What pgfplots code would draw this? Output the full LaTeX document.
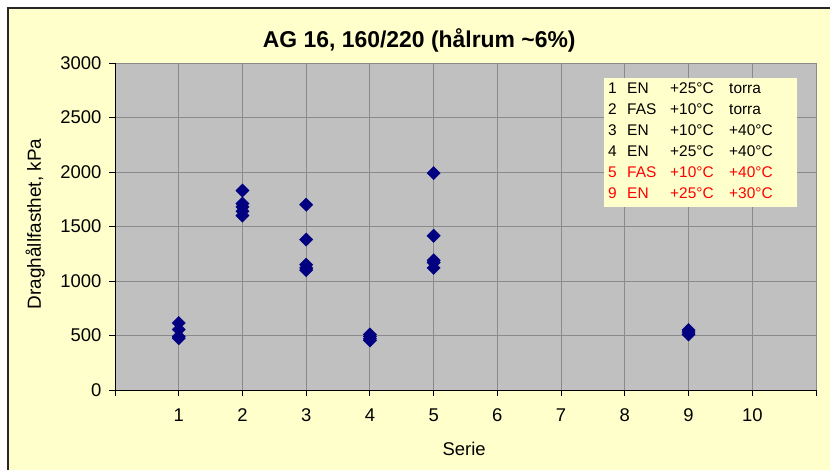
\documentclass[border=0pt]{standalone}
\usepackage{pgfplots}
\pgfplotsset{compat=1.18}
\usepackage{fontspec}
\setmainfont{Liberation Sans}
\definecolor{bgyel}{HTML}{FFFFCC}
\definecolor{plotgray}{HTML}{C0C0C0}
\definecolor{gridgray}{HTML}{8A8A8A}
\definecolor{navy}{HTML}{000080}
\begin{document}
\begin{tikzpicture}[x=1bp,y=1bp]
\useasboundingbox (0,0) rectangle (830,-470);
\fill[white] (0,0) rectangle (830,-470);
\fill[bgyel] (8,-8) rectangle (840,-480);
\draw[black!85, line width=1.6bp] (8,-480) -- (8,-8) -- (840,-8);
\begin{axis}[
  scale only axis, width=701bp, height=327bp,
  at={(115bp,-390bp)}, anchor=south west,
  xmin=0, xmax=11, ymin=0, ymax=3000,
  xtick={0,...,11}, xticklabels={,1,2,3,4,5,6,7,8,9,10,},
  ytick={0,500,...,3000},
  axis background/.style={fill=plotgray},
  grid=major, grid style={gridgray, line width=0.9bp},
  axis x line*=bottom, axis y line*=left,
  axis line style={black, line width=0.9bp, -},
  tick align=outside, major tick length=6bp,
  tick style={black, line width=0.9bp},
  ticklabel style={font=\fontsize{18.5}{21}\selectfont},
  xticklabel style={yshift=-9bp},
  yticklabel style={xshift=-4bp},
  /pgf/number format/assume math mode=true,
  /pgf/number format/1000 sep={},
  xlabel={Serie}, ylabel={Draghållfasthet, kPa},
  every axis x label/.style={at={(axis description cs:0.498,-0.18)}, anchor=center, font=\fontsize{18.5}{21}\selectfont},
  every axis y label/.style={at={(axis description cs:-0.114,0.508)}, rotate=90, anchor=center, font=\fontsize{19}{21}\selectfont},
  title={AG 16, 160/220 (hålrum \textasciitilde 6\%)},
  title style={at={(axis description cs:0.434,1.05)}, anchor=center, font=\bfseries\fontsize{23}{26}\selectfont},
  clip=false,
]
\addplot[only marks, mark=square*, mark size=4.7bp, mark options={rotate=45, fill=navy, draw=navy}] coordinates {
  (1,615) (1,555) (1,490) (1,475)
  (2,1830) (2,1710) (2,1680) (2,1640) (2,1600)
  (3,1700) (3,1380) (3,1150) (3,1120) (3,1100)
  (4,510) (4,490) (4,470) (4,455)
  (5,1990) (5,1415) (5,1190) (5,1170) (5,1120)
  (9,550) (9,530) (9,510)
};
\end{axis}
\fill[bgyel] (604,-78) rectangle (797,-207);
\begin{scope}[every node/.style={anchor=base west, inner sep=0pt, font=\fontsize{15.5}{18}\selectfont}]
\foreach \r/\a/\b/\c/\d/\col in {0/1/EN/+25°C/torra/black, 1/2/FAS/+10°C/torra/black, 2/3/EN/+10°C/+40°C/black, 3/4/EN/+25°C/+40°C/black, 4/5/FAS/+10°C/+40°C/red, 5/9/EN/+25°C/+30°C/red}{
  \node[text=\col] at (608,-94-21*\r) {\a};
  \node[text=\col] at (627,-94-21*\r) {\b};
  \node[text=\col] at (670,-94-21*\r) {\c};
  \node[text=\col] at (729,-94-21*\r) {\d};
}
\end{scope}
\end{tikzpicture}
\end{document}
